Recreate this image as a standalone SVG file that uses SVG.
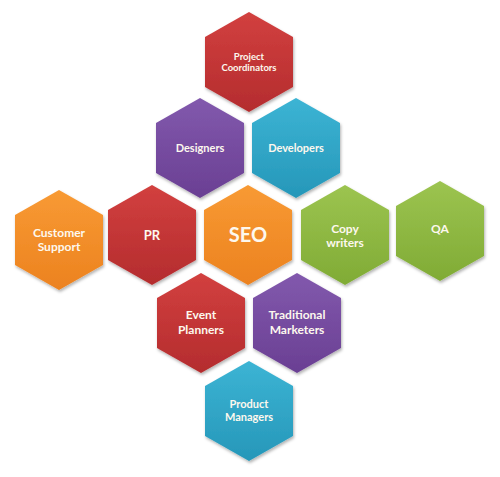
<svg xmlns="http://www.w3.org/2000/svg" width="500" height="477" viewBox="0 0 500 477">
<defs>
<linearGradient id="gRed" x1="0" y1="0" x2="0" y2="1"><stop offset="0" stop-color="#d2403f"/><stop offset="1" stop-color="#b42c2e"/></linearGradient>
<linearGradient id="gPurple" x1="0" y1="0" x2="0" y2="1"><stop offset="0" stop-color="#8259ad"/><stop offset="1" stop-color="#6a3f93"/></linearGradient>
<linearGradient id="gTeal" x1="0" y1="0" x2="0" y2="1"><stop offset="0" stop-color="#3cb4d4"/><stop offset="1" stop-color="#2697b9"/></linearGradient>
<linearGradient id="gOrange" x1="0" y1="0" x2="0" y2="1"><stop offset="0" stop-color="#f89a34"/><stop offset="1" stop-color="#ec821f"/></linearGradient>
<linearGradient id="gGreen" x1="0" y1="0" x2="0" y2="1"><stop offset="0" stop-color="#9cc450"/><stop offset="1" stop-color="#80ab35"/></linearGradient>
<filter id="sh" x="-20%" y="-20%" width="140%" height="140%"><feDropShadow dx="1" dy="2" stdDeviation="1.5" flood-color="#000" flood-opacity="0.3"/></filter>
<path id="hex" d="M0,-50 L44,-25 L44,25 L0,50 L-44,25 L-44,-25 Z"/>
</defs>
<style>
.red{fill:url(#gRed)}
.purple{fill:url(#gPurple)}
.teal{fill:url(#gTeal)}
.orange{fill:url(#gOrange)}
.green{fill:url(#gGreen)}
use{filter:url(#sh)}
text{font-family:Lato,"Open Sans","Liberation Sans",sans-serif;font-weight:bold;fill:#fdf8ee;text-anchor:middle}
.s9{font-size:9.5px}.s11{font-size:11px}.s12{font-size:12px}.s13{font-size:13px}.s20{font-size:20px}
</style>
<rect width="500" height="477" fill="#fff"/>
<g id="project-coordinators" transform="translate(249,62)"><use href="#hex" class="red"/><text class="s9" y="-2">Project</text><text class="s9" y="9">Coordinators</text></g>
<g id="designers" transform="translate(200,148)"><use href="#hex" class="purple"/><text class="s11" y="4">Designers</text></g>
<g id="developers" transform="translate(296,148)"><use href="#hex" class="teal"/><text class="s11" y="4">Developers</text></g>
<g id="customer-support" transform="translate(59,240)"><use href="#hex" class="orange"/><text class="s12" y="-3">Customer</text><text class="s12" y="11">Support</text></g>
<g id="pr" transform="translate(152,235)"><use href="#hex" class="red"/><text class="s13" y="5">PR</text></g>
<g id="seo" transform="translate(248,235)"><use href="#hex" class="orange"/><text class="s20" y="7">SEO</text></g>
<g id="copy-writers" transform="translate(345,235)"><use href="#hex" class="green"/><text class="s12" y="-2">Copy</text><text class="s12" y="12">writers</text></g>
<g id="qa" transform="translate(440,231)"><use href="#hex" class="green"/><text class="s12" y="2">QA</text></g>
<g id="event-planners" transform="translate(201,323)"><use href="#hex" class="red"/><text class="s12" y="-4">Event</text><text class="s12" y="11">Planners</text></g>
<g id="traditional-marketers" transform="translate(297,323)"><use href="#hex" class="purple"/><text class="s12" y="-4">Traditional</text><text class="s12" y="11">Marketers</text></g>
<g id="product-managers" transform="translate(249,411)"><use href="#hex" class="teal"/><text class="s11" y="-3">Product</text><text class="s11" y="10">Managers</text></g>
</svg>
